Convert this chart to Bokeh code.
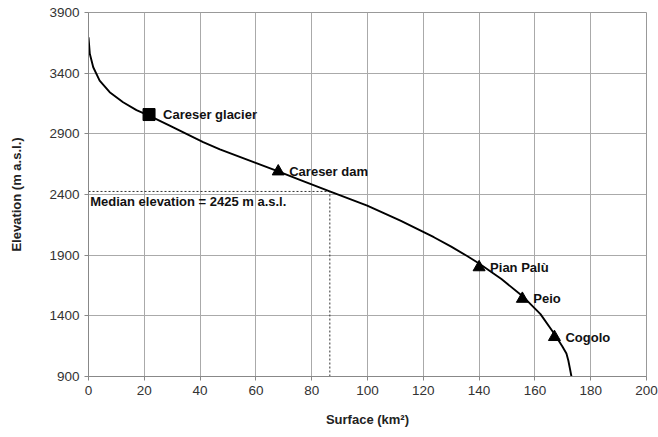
from bokeh.plotting import figure
from bokeh.models import FixedTicker
from bokeh.core.properties import value
from bokeh.embed import file_html
from bokeh.resources import INLINE

# Hypsometric curve (surface vs elevation)
surface = [0, 0.47, 1.7, 4.0, 7.6, 12.4, 17.2, 21.7, 29.1, 35.1, 41.1, 47.1, 55.4,
           68, 76, 86.7, 99.9, 111.8, 123.8, 130, 135.7, 140, 148, 155.5, 162, 167,
           169.8, 171.3, 172, 172.6, 173.1]
elevation = [3696, 3560, 3449, 3339, 3243, 3160, 3095, 3050, 2968, 2900, 2831, 2772,
             2700, 2590, 2518, 2424, 2309, 2185, 2048, 1970, 1893, 1831, 1703, 1564,
             1414, 1250, 1150, 1090, 1030, 960, 900]

# Named sites
glacier_name = ["Careser glacier"]
glacier_x = [21.7]
glacier_y = [3059]
site_names = ["Careser dam", "Pian Palù", "Peio", "Cogolo"]
site_x = [68, 140, 155.5, 167]
site_y = [2590, 1800, 1540, 1225]

median_x = 86.5
median_y = 2425
median_text = ["Median elevation = 2425 m a.s.l."]

x_ticks = list(range(0, 201, 20))
y_ticks = [900, 1400, 1900, 2400, 2900, 3400, 3900]

p = figure(width=658, height=437, x_range=(0, 200), y_range=(900, 3900),
           output_backend="svg", toolbar_location=None,
           min_border_left=88, min_border_right=12, min_border_top=12, min_border_bottom=61)

p.background_fill_color = "white"
p.border_fill_color = "white"
p.outline_line_color = "#999999"

font = "Liberation Sans"
for ax in (p.xaxis, p.yaxis):
    ax.axis_line_color = "#888888"
    ax.major_tick_line_color = "#888888"
    ax.major_tick_out = 4
    ax.major_tick_in = 0
    ax.minor_tick_line_color = None
    ax.major_label_text_font = font
    ax.major_label_text_font_size = "13.5px"
    ax.major_label_text_color = "#333333"
    ax.axis_label_text_font = font
    ax.axis_label_text_font_style = "bold"
    ax.axis_label_text_font_size = "13px"
    ax.axis_label_text_color = "#222222"

p.xaxis.ticker = FixedTicker(ticks=x_ticks)
p.yaxis.ticker = FixedTicker(ticks=y_ticks)
p.xaxis.axis_label = "Surface (km²)"
p.yaxis.axis_label = "Elevation (m a.s.l.)"
p.xaxis.major_label_standoff = 5
p.yaxis.major_label_standoff = 5
p.xaxis.axis_label_standoff = 14
p.yaxis.axis_label_standoff = 22

p.xgrid.ticker = FixedTicker(ticks=x_ticks)
p.ygrid.ticker = FixedTicker(ticks=y_ticks)
p.xgrid.grid_line_color = "#aaaaaa"
p.ygrid.grid_line_color = "#aaaaaa"

# Median dotted lines
p.line(x=[0, median_x], y=[median_y, median_y], line_color="#333333", line_width=1, line_dash="2 2")
p.line(x=[median_x, median_x], y=[900, median_y], line_color="#333333", line_width=1, line_dash="2 2")

# Curve
p.line(x=surface, y=elevation, line_color="black", line_width=1.9, line_join="round")

# Markers
p.scatter(x=glacier_x, y=glacier_y, marker="square", size=12, color="black")
p.scatter(x=site_x, y=site_y, marker="triangle", size=12, color="black")

# Labels
p.text(x=glacier_x, y=glacier_y, text=glacier_name, x_offset=14, y_offset=0,
       text_font=value(font), text_font_style="bold", text_font_size="13px",
       text_baseline="middle", text_color="#111111")
p.text(x=site_x, y=site_y, text=site_names, x_offset=11, y_offset=0,
       text_font=value(font), text_font_style="bold", text_font_size="13px",
       text_baseline="middle", text_color="#111111")
p.text(x=[0.6], y=[median_y], text=median_text, x_offset=0, y_offset=3,
       text_font=value(font), text_font_style="bold", text_font_size="13px",
       text_baseline="top", text_color="#111111")

open("out.html", "w").write(file_html(p, INLINE))
